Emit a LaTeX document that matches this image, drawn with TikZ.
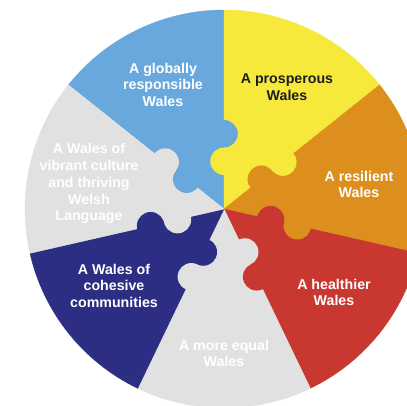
\documentclass[tikz,border=0pt]{standalone}
\usepackage{fontspec}
\setmainfont{Liberation Sans}
\definecolor{cblue}{HTML}{68A8DD}
\definecolor{cyellow}{HTML}{F7E93B}
\definecolor{corange}{HTML}{DC8F1C}
\definecolor{cred}{HTML}{C83831}
\definecolor{cgray}{HTML}{E1E1E1}
\definecolor{cnavy}{HTML}{2C2E83}
\definecolor{cdark}{HTML}{1D1D1B}
\begin{document}
\begin{tikzpicture}[x=1pt,y=1pt,
  lbl/.style={font=\fontsize{14.2}{16.7}\selectfont\bfseries, align=center, text=white, inner sep=0pt},
  wedge/.style={fill=#1, draw=#1, line width=0.4pt},
  knob/.style={fill=#1},
]
\useasboundingbox (0,0) rectangle (407,406);
\clip (0,0) rectangle (407,406);
\fill[white] (0,0) rectangle (407,406);
\def\R{199}
\def\rin{47.75}
\def\rout{75.25}
\def\kr{13.75}
\begin{scope}[shift={(224,197)}]
  % wedges
  \path[wedge=cblue]   (0,0) -- (90:\R) arc[start angle=90, end angle=141.43, radius=\R] -- cycle;
  \path[wedge=cyellow] (0,0) -- (38.57:\R) arc[start angle=38.57, end angle=90, radius=\R] -- cycle;
  \path[wedge=corange] (0,0) -- (-12.86:\R) arc[start angle=-12.86, end angle=38.57, radius=\R] -- cycle;
  \path[wedge=cred]    (0,0) -- (-64.29:\R) arc[start angle=-64.29, end angle=-12.86, radius=\R] -- cycle;
  \path[wedge=cgray]   (0,0) -- (-115.71:\R) arc[start angle=-115.71, end angle=-64.29, radius=\R] -- cycle;
  \path[wedge=cnavy]   (0,0) -- (-167.14:\R) arc[start angle=-167.14, end angle=-115.71, radius=\R] -- cycle;
  \path[wedge=cgray]   (0,0) -- (141.43:\R) arc[start angle=141.43, end angle=192.86, radius=\R] -- cycle;
  % knobs near the centre (clockwise piece into counter-clockwise piece)
  \fill[knob=cyellow] (90:\rin) circle[radius=\kr];
  \fill[knob=corange] (38.57:\rin) circle[radius=\kr];
  \fill[knob=cred]    (-12.86:\rin) circle[radius=\kr];
  \fill[knob=cgray]   (-64.29:\rin) circle[radius=\kr];
  \fill[knob=cnavy]   (-115.71:\rin) circle[radius=\kr];
  \fill[knob=cgray]   (-167.14:\rin) circle[radius=\kr];
  \fill[knob=cblue]   (141.43:\rin) circle[radius=\kr];
  % knobs further out (counter-clockwise piece into clockwise piece)
  \fill[knob=cblue]   (90:\rout) circle[radius=\kr];
  \fill[knob=cyellow] (38.57:\rout) circle[radius=\kr];
  \fill[knob=corange] (-12.86:\rout) circle[radius=\kr];
  \fill[knob=cred]    (-64.29:\rout) circle[radius=\kr];
  \fill[knob=cgray]   (-115.71:\rout) circle[radius=\kr];
  \fill[knob=cnavy]   (-167.14:\rout) circle[radius=\kr];
  \fill[knob=cgray]   (141.43:\rout) circle[radius=\kr];
\end{scope}
% labels
\node[lbl] (global) at (163,321.2) {A globally\\responsible\\Wales};
\node[lbl, text=cdark] (prosp) at (287,318.5) {A prosperous\\Wales};
\node[lbl] (resil) at (359,221.7) {A resilient\\Wales};
\node[lbl] (health) at (334,113.7) {A healthier\\Wales};
\node[lbl] (equal) at (224,52.7) {A more equal\\Wales};
\node[lbl] (cohes) at (114,120.2) {A Wales of\\cohesive\\communities};
\node[lbl] (cult) at (89,222.3) {A Wales of\\vibrant culture\\and thriving\\Welsh\\Language};
\end{tikzpicture}
\end{document}
